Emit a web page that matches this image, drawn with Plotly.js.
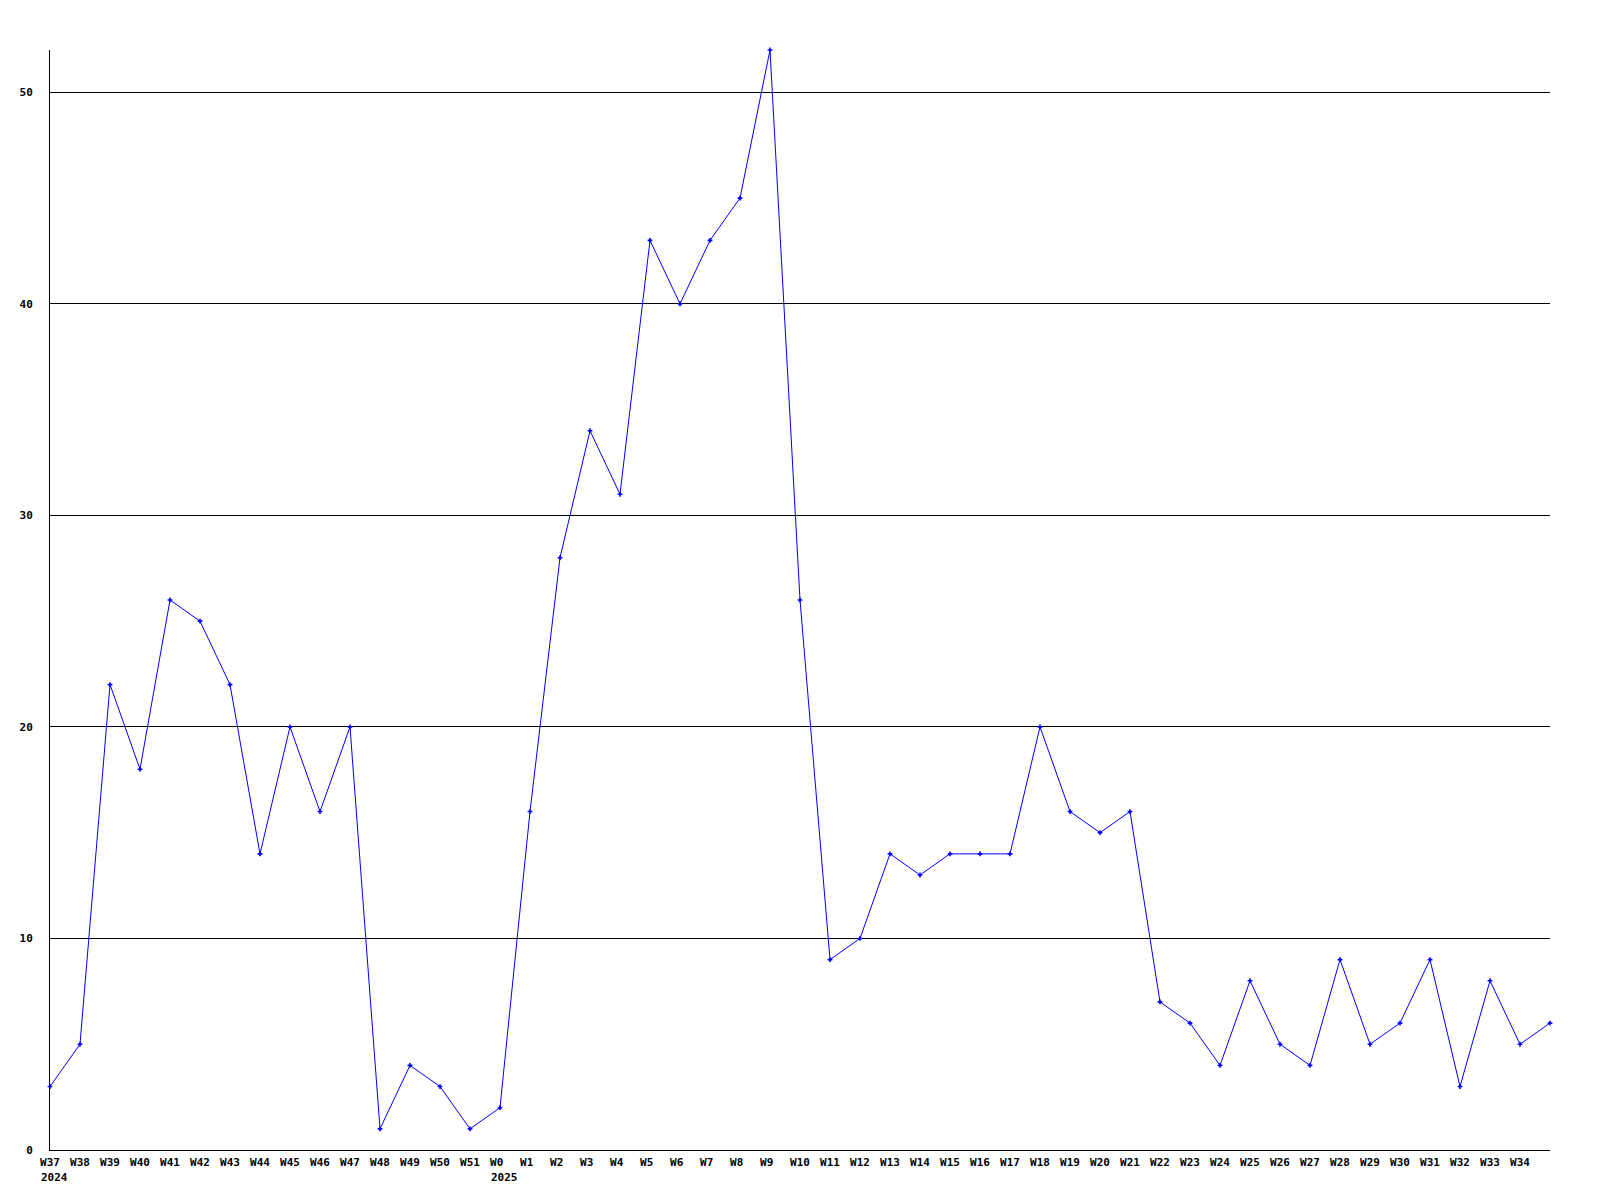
<!DOCTYPE html>
<html>
<head>
<meta charset="utf-8">
<script src="https://cdn.plot.ly/plotly-3.0.1.min.js"></script>
<style>html,body{margin:0;padding:0;background:#fff;}#chart{width:1600px;height:1200px;}</style>
</head>
<body>
<div id="chart"></div>
<script>
var weeks = ["W37","W38","W39","W40","W41","W42","W43","W44","W45","W46","W47","W48","W49","W50","W51","W0",
  "W1","W2","W3","W4","W5","W6","W7","W8","W9","W10","W11","W12","W13","W14","W15","W16","W17","W18","W19","W20",
  "W21","W22","W23","W24","W25","W26","W27","W28","W29","W30","W31","W32","W33","W34","W35"];
var counts = [3,5,22,18,26,25,22,14,20,16,20,1,4,3,1,2,
  16,28,34,31,43,40,43,45,52,26,9,10,14,13,14,14,14,20,16,15,
  16,7,6,4,8,5,4,9,5,6,9,3,8,5,6];
var labeledWeeks = weeks.slice(0, 50);
var yearLabels = [{week:"W37", year:"2024"}, {week:"W0", year:"2025"}];
var yTicks = [0,10,20,30,40,50];

var font = {family: "DejaVu Sans Mono, monospace", size: 11, color: "#000", weight: "bold"};

// left-align labels: pad short labels to 3 chars with non-breaking spaces
var tickText = labeledWeeks.map(function(w){
  var s = w;
  while (s.length < 3) s += "\u00a0";
  return s;
});

var trace = {
  type: "scatter", mode: "lines+markers",
  x: weeks, y: counts,
  line: {color: "#0000ff", width: 1},
  marker: {color: "#0000ff", symbol: "cross", size: 4},
  cliponaxis: false,
  hoverinfo: "x+y"
};

var layout = {
  width: 1600, height: 1200,
  margin: {l: 50, r: 50, t: 50, b: 50, pad: 0},
  paper_bgcolor: "#fff", plot_bgcolor: "#fff",
  showlegend: false,
  font: font,
  xaxis: {
    type: "category", categoryorder: "array", categoryarray: weeks,
    range: [0, weeks.length - 1],
    tickmode: "array", tickvals: labeledWeeks, ticktext: tickText,
    showgrid: false, zeroline: false,
    showline: true, linecolor: "#000", linewidth: 1,
    ticks: "", tickfont: font, tickangle: 0, ticklabelstandoff: 2, automargin: false
  },
  yaxis: {
    range: [0, 52],
    tickmode: "array", tickvals: yTicks,
    showgrid: true, gridcolor: "#000", gridwidth: 1,
    zeroline: false,
    showline: true, linecolor: "#000", linewidth: 1,
    ticks: "", tickfont: font, ticklabelstandoff: 14, automargin: false
  },
  annotations: yearLabels.map(function(d){
    return {x: d.week, xref: "x", y: 0, yref: "paper", text: d.year,
      showarrow: false, xanchor: "left", yanchor: "top", xshift: -11, yshift: -19,
      font: font};
  })
};

Plotly.newPlot("chart", [trace], layout, {staticPlot: true, displayModeBar: false});
</script>
</body>
</html>
